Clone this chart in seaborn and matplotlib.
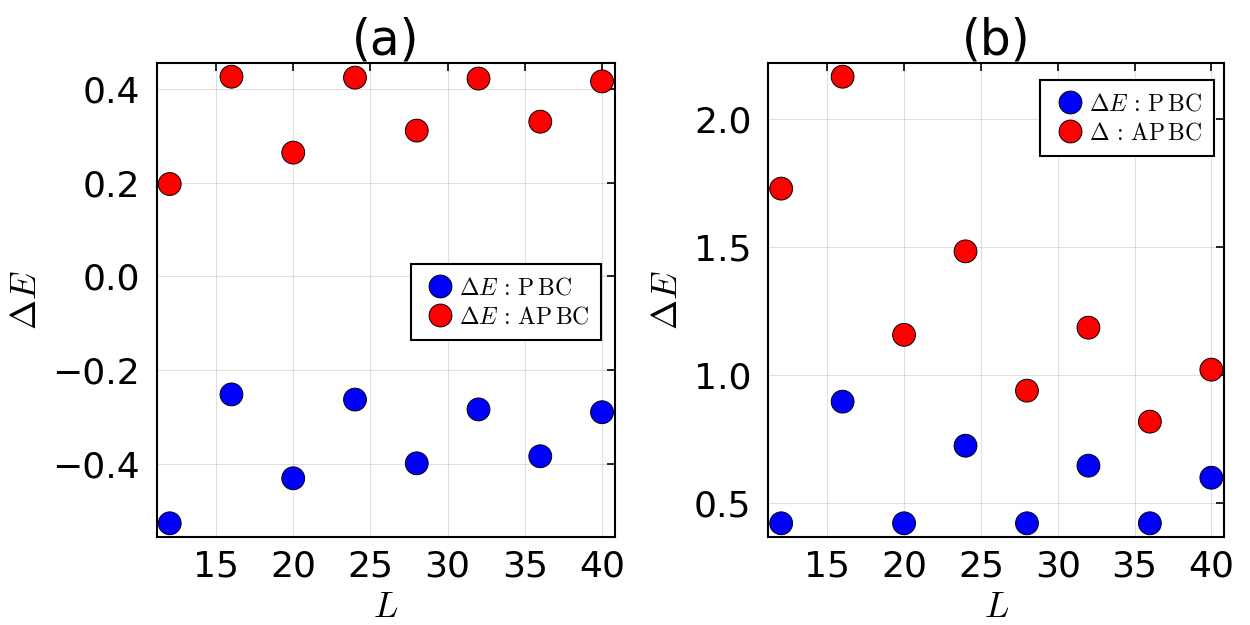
import numpy as np
import pandas as pd
import matplotlib
matplotlib.use("Agg")
import matplotlib.pyplot as plt
import seaborn as sns

# ---- data ----
L_vals = [12, 16, 20, 24, 28, 32, 36, 40]
a_pbc = [-0.527, -0.252, -0.431, -0.263, -0.399, -0.284, -0.384, -0.290]
a_apbc = [0.197, 0.426, 0.264, 0.424, 0.311, 0.422, 0.330, 0.416]
b_pbc = [0.421, 0.896, 0.421, 0.724, 0.421, 0.646, 0.421, 0.599]
b_apbc = [1.728, 2.165, 1.157, 1.483, 0.939, 1.185, 0.818, 1.021]

a_labels = [r"$\Delta E\,:\,\mathrm{P\,BC}$", r"$\Delta E\,:\,\mathrm{AP\,BC}$"]
b_labels = [r"$\Delta E\,:\,\mathrm{P\,BC}$", r"$\Delta\,:\,\mathrm{AP\,BC}$"]
titles = ["(a)", "(b)"]
xticks = [15, 20, 25, 30, 35, 40]
a_yticks = [-0.4, -0.2, 0.0, 0.2, 0.4]
b_yticks = [0.5, 1.0, 1.5, 2.0]

sns.set_style("white")
plt.rcParams["font.family"] = ["DejaVu Sans"]
plt.rcParams["mathtext.fontset"] = "cm"
plt.rcParams["text.color"] = "black"
plt.rcParams["axes.labelcolor"] = "black"

fig = plt.figure(figsize=(12.5, 6.25), dpi=100)
ax_a = fig.add_axes([0.1254, 0.1413, 0.3666, 0.7574])
ax_b = fig.add_axes([0.6146, 0.1413, 0.3648, 0.7574])


def draw(ax, pbc, apbc, labels, title, yticks, legend_loc, bbox):
    df = pd.DataFrame({
        "L": L_vals * 2,
        "E": list(pbc) + list(apbc),
        "series": [labels[0]] * len(L_vals) + [labels[1]] * len(L_vals),
    })
    sns.scatterplot(data=df, x="L", y="E", hue="series",
                    palette={labels[0]: "#0000ff", labels[1]: "#ff0000"},
                    s=270, edgecolor="black", linewidth=0.7, ax=ax, zorder=3)
    allv = list(pbc) + list(apbc)
    lo, hi = min(allv), max(allv)
    m = 0.03 * (hi - lo)
    ax.set_ylim(lo - m, hi + m)
    ax.set_xlim(12 - 0.03 * 28, 40 + 0.03 * 28)
    ax.set_xticks(xticks)
    ax.set_yticks(yticks)
    ax.set_yticklabels([("\u2212" if v < 0 else "") + f"{abs(v):.1f}" for v in yticks])
    ax.grid(True, color="black", alpha=0.12, linewidth=0.8)
    ax.set_axisbelow(True)
    for sp in ax.spines.values():
        sp.set_visible(True)
        sp.set_color("black")
        sp.set_linewidth(1.5)
    ax.tick_params(direction="in", length=6, width=1.2, top=True, right=True,
                   labelsize=26, colors="black")
    ax.tick_params(axis="y", pad=12)
    ax.tick_params(axis="x", pad=9)
    ax.set_xlabel(r"$L$", fontsize=26, labelpad=5)
    ax.set_ylabel(r"$\Delta E$", fontsize=26, labelpad=7)
    ax.set_title(title, fontsize=35, pad=6, color="black")
    leg = ax.legend(loc=legend_loc, bbox_to_anchor=bbox, fontsize=17,
                    frameon=True, fancybox=False, borderpad=0.5,
                    handletextpad=0.05, labelspacing=0.2, handlelength=1.5,
                    borderaxespad=0.0, markerscale=1.0)
    fr = leg.get_frame()
    fr.set_edgecolor("black")
    fr.set_linewidth(1.5)
    fr.set_alpha(1)


draw(ax_a, a_pbc, a_apbc, a_labels, titles[0], a_yticks, "center right", (0.97, 0.496))
draw(ax_b, b_pbc, b_apbc, b_labels, titles[1], b_yticks, "upper right", (0.977, 0.965))

fig.savefig("out.png", dpi=100)
